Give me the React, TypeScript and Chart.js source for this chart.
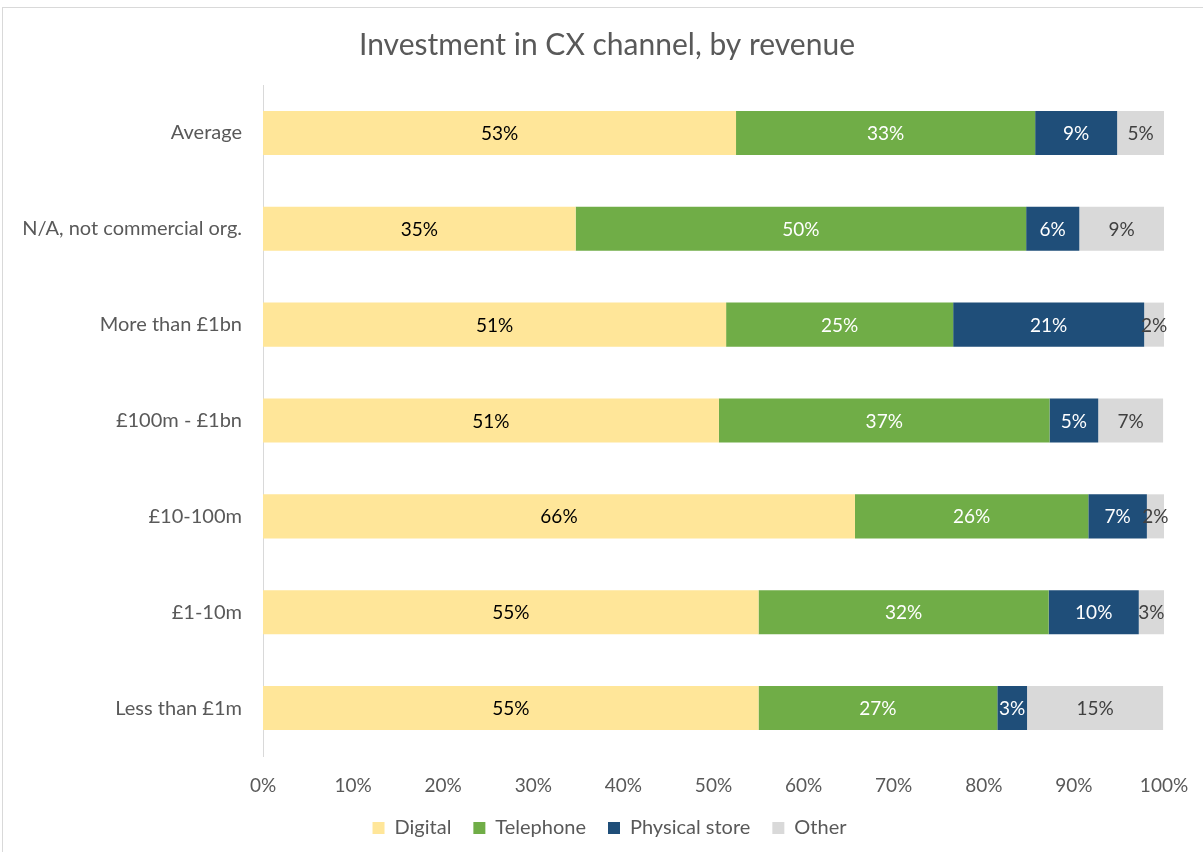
import React, { useEffect, useRef } from "react";
import { Chart, registerables } from "chart.js";

Chart.register(...registerables);

const titleText = "Investment in CX channel, by revenue";
const categories = [
  "Average",
  "N/A, not commercial org.",
  "More than £1bn",
  "£100m - £1bn",
  "£10-100m",
  "£1-10m",
  "Less than £1m",
];
const digital = [52.5, 34.7, 51.4, 50.6, 65.7, 55.0, 55.0];
const telephone = [33.2, 50.0, 25.2, 36.7, 25.9, 32.2, 26.5];
const physicalStore = [9.1, 5.9, 21.2, 5.4, 6.5, 10.0, 3.3];
const other = [5.2, 9.4, 2.2, 7.2, 1.9, 2.8, 15.1];
const xTicks = [0, 10, 20, 30, 40, 50, 60, 70, 80, 90, 100];

const FONT = "Lato, 'Open Sans', sans-serif";
const GRAY = "#595959";

const labelPlugin = {
  id: "barLabels",
  afterDatasetsDraw(chart: any) {
    const ctx = chart.ctx;
    ctx.save();
    ctx.font = `19px ${FONT}`;
    ctx.textAlign = "center";
    ctx.textBaseline = "middle";
    chart.data.datasets.forEach((ds: any, di: number) => {
      const meta = chart.getDatasetMeta(di);
      meta.data.forEach((bar: any, i: number) => {
        const v = ds.data[i];
        const cx = (bar.x + bar.base) / 2;
        ctx.fillStyle = ds.labelColor;
        ctx.fillText(Math.round(v) + "%", cx, bar.y + 1);
      });
    });
    ctx.restore();
  },
};

const titlePlugin = {
  id: "customTitle",
  afterDraw(chart: any) {
    const ctx = chart.ctx;
    ctx.save();
    ctx.font = `30px ${FONT}`;
    ctx.fillStyle = GRAY;
    ctx.textAlign = "center";
    ctx.textBaseline = "middle";
    ctx.fillText(titleText, 607, 45);
    ctx.restore();
  },
};

export default function App() {
  const ref = useRef<HTMLCanvasElement>(null);
  useEffect(() => {
    if (!ref.current) return;
    const chart = new Chart(ref.current, {
      type: "bar",
      data: {
        labels: categories,
        datasets: [
          { label: "Digital", data: digital, backgroundColor: "#FFE699", labelColor: "#000000" } as any,
          { label: "Telephone", data: telephone, backgroundColor: "#70AD47", labelColor: "#FFFFFF" } as any,
          { label: "Physical store", data: physicalStore, backgroundColor: "#1F4E79", labelColor: "#FFFFFF" } as any,
          { label: "Other", data: other, backgroundColor: "#D9D9D9", labelColor: "#404040" } as any,
        ],
      },
      options: {
        indexAxis: "y",
        animation: false,
        responsive: false,
        maintainAspectRatio: false,
        layout: { padding: { left: 16, right: 0, top: 85, bottom: 4 } },
        datasets: {
          bar: { barPercentage: 1, categoryPercentage: 0.46, borderWidth: 0 },
        },
        scales: {
          x: {
            stacked: true,
            min: 0,
            max: 100,
            afterBuildTicks: (scale: any) => {
              scale.ticks = xTicks.map((v) => ({ value: v }));
            },
            afterFit: (scale: any) => {
              scale.height = 40;
              scale.paddingRight = 39;
              scale.paddingLeft = 0;
            },
            grid: { display: false, drawTicks: false },
            border: { display: false },
            ticks: {
              padding: 18,
              color: GRAY,
              font: { family: FONT, size: 19 },
              callback: (v: any) => v + "%",
              maxRotation: 0,
            },
          },
          y: {
            stacked: true,
            afterFit: (scale: any) => {
              scale.width = 247;
            },
            grid: { display: false, drawTicks: false },
            border: { display: true, color: "#D9D9D9", width: 1 },
            ticks: {
              padding: 21,
              color: GRAY,
              font: { family: FONT, size: 20 },
            },
          },
        },
        plugins: {
          title: { display: false },
          legend: {
            position: "bottom",
            labels: {
              boxWidth: 12,
              boxHeight: 12,
              padding: 22,
              color: GRAY,
              font: { family: FONT, size: 20 },
            },
          },
          tooltip: { enabled: false },
        },
      } as any,
      plugins: [labelPlugin, titlePlugin],
    });
    return () => chart.destroy();
  }, []);
  return (
    <div
      style={{
        position: "fixed",
        left: 0,
        top: 0,
        width: 1203,
        height: 852,
        background: "#fff",
      }}
    >
      <canvas ref={ref} width={1203} height={852} style={{ display: "block" }} />
      <div
        style={{
          position: "absolute",
          left: 2,
          top: 7,
          width: 1210,
          height: 860,
          border: "1px solid #D9D9D9",
          pointerEvents: "none",
        }}
      />
    </div>
  );
}
